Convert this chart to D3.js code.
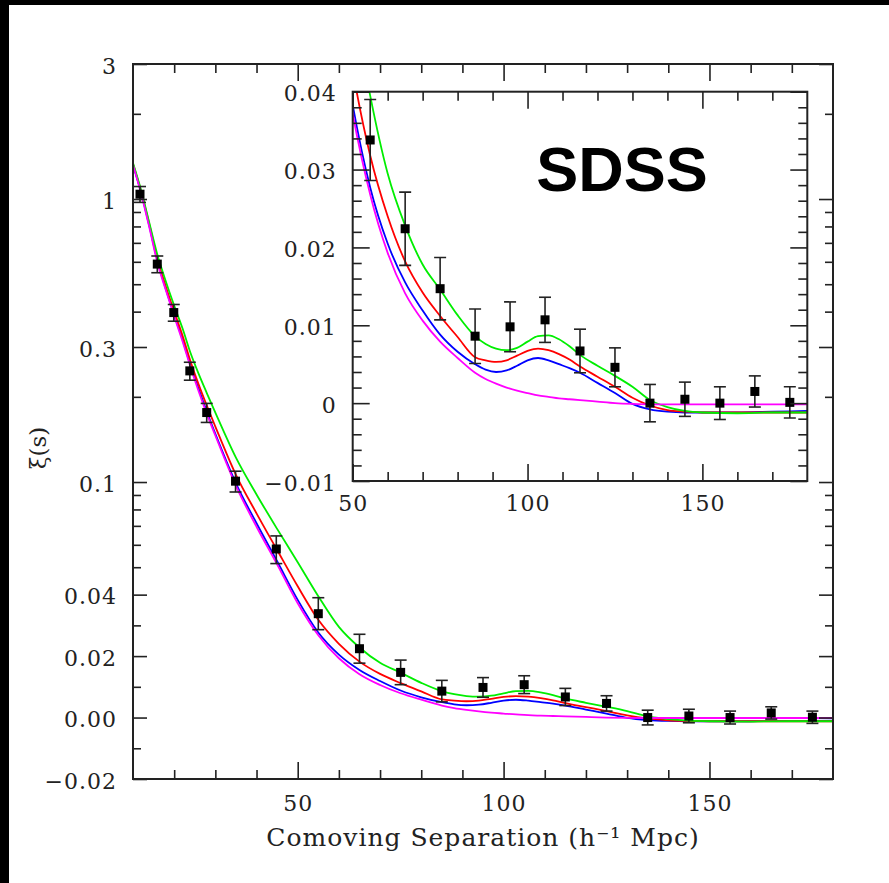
<!DOCTYPE html>
<html><head><meta charset="utf-8">
<script src="https://cdn.jsdelivr.net/npm/d3@7"></script>
<style>body{margin:0;background:#fff} svg{display:block}</style>
</head><body><svg id="c" width="889" height="883"></svg>
<script>
// ---------------- data ----------------
const pointSep = [11.7, 15.9, 19.9, 23.8, 27.9, 34.9, 44.8, 55, 65, 75, 85, 95, 105, 115, 125, 135, 145, 155, 165, 175];
const pointXi  = [1.04, 0.589, 0.397, 0.247, 0.176, 0.1007, 0.058, 0.0338, 0.0224, 0.0147, 0.0086, 0.0098, 0.0107, 0.0067, 0.0046, 0.0000, 0.0005, 0.0000, 0.0015, 0.0001];
const pointErr = [0.067, 0.040, 0.027, 0.018, 0.0136, 0.0085, 0.0065, 0.0052, 0.0047, 0.0040, 0.0035, 0.0032, 0.0029, 0.0028, 0.0025, 0.0024, 0.0022, 0.0021, 0.0020, 0.0020];

const curveSep = [10,12,14,16,18,20,22,24,26,28,30,35,40,45,50,55,60,65,70,75,80,85,88,91,94,97,100,103,106,109,112,115,120,125,130,135,140,145,150,160,170,180];
const modelGreen = [1.34,1.07,0.82,0.63,0.51,0.42,0.35,0.285,0.24,0.205,0.176,0.122,0.0904,0.0683,0.0521,0.0395,0.0295,0.0228,0.0178,0.0146,0.0113,0.0086,0.0076,0.0070,0.0068,0.0071,0.0079,0.0086,0.0087,0.0082,0.0073,0.0062,0.0048,0.0035,0.0021,0.0004,-0.0005,-0.0010,-0.0012,-0.0013,-0.0012,-0.0012];
const modelRed   = [1.33,1.06,0.81,0.61,0.49,0.40,0.33,0.266,0.22,0.185,0.157,0.106,0.0775,0.0575,0.0428,0.0318,0.0240,0.0182,0.0142,0.0112,0.0085,0.0059,0.0055,0.0053,0.0055,0.0061,0.0067,0.0070,0.0068,0.0063,0.0056,0.0047,0.0034,0.0021,0.0007,-0.0003,-0.0009,-0.0011,-0.0012,-0.0012,-0.0012,-0.0012];
const modelBlue  = [1.32,1.05,0.80,0.60,0.48,0.39,0.32,0.258,0.212,0.176,0.148,0.099,0.0715,0.0525,0.0383,0.0277,0.0205,0.0155,0.0119,0.0088,0.0066,0.0050,0.0043,0.0040,0.0042,0.0048,0.0055,0.0058,0.0055,0.0050,0.0045,0.0039,0.0026,0.0013,-0.0001,-0.0008,-0.0011,-0.0012,-0.0012,-0.0012,-0.0011,-0.0010];
const modelMagenta = [1.32,1.04,0.79,0.59,0.475,0.385,0.315,0.254,0.208,0.173,0.146,0.097,0.0695,0.0512,0.0372,0.0268,0.0193,0.0141,0.0106,0.0079,0.0058,0.0039,0.0031,0.0025,0.0020,0.0016,0.0013,0.0010,0.0008,0.0006,0.0005,0.0004,0.0002,0.0000,-0.0001,-0.00015,-0.00015,-0.00015,-0.00015,-0.00015,-0.00015,-0.00015];
const models = [
  {name:"blue", color:"#0000ff", values:modelBlue},
  {name:"red", color:"#ff0000", values:modelRed},
  {name:"green", color:"#00ee00", values:modelGreen},
  {name:"magenta", color:"#ff00ff", values:modelMagenta}
];

const mainYMajor = [3, 1, 0.3, 0.1, 0.04, 0.02, 0, -0.02];
const mainYLabels = ["3", "1", "0.3", "0.1", "0.04", "0.02", "0.00", "\u22120.02"];
const mainYMinor = [2, 0.9, 0.8, 0.7, 0.6, 0.5, 0.4, 0.2, 0.09, 0.08, 0.07, 0.06, 0.05, 0.03, 0.01, -0.01];
const mainXMajor = [50, 100, 150];
const mainXMinor = [20, 30, 40, 60, 70, 80, 90, 110, 120, 130, 140, 160, 170];
const insetYMajor = [-0.01, 0, 0.01, 0.02, 0.03, 0.04];
const insetYLabels = ["\u22120.01", "0", "0.01", "0.02", "0.03", "0.04"];
const insetYMinor = [-0.008, -0.006, -0.004, -0.002, 0.002, 0.004, 0.006, 0.008, 0.012, 0.014, 0.016, 0.018, 0.022, 0.024, 0.026, 0.028, 0.032, 0.034, 0.036, 0.038];
const insetXMajor = [50, 100, 150];
const insetXMinor = [60, 70, 80, 90, 110, 120, 130, 140, 160, 170];

// ---------------- setup ----------------
const svg = d3.select("#c");
const FONT = "DejaVu Serif";
const INK = "#222";

svg.append("rect").attr("x",0).attr("y",0).attr("width",889).attr("height",5).attr("fill","#000");
svg.append("rect").attr("x",0).attr("y",0).attr("width",9).attr("height",883).attr("fill","#000");

// mixed linear / log transform (linear below 0.04, log above, C1 continuous)
const LIN = 0.04;
const fwd = v => v <= LIN ? v / LIN : 1 + Math.log(v / LIN);

const M = {l:133, r:833, t:64, b:779};
const xMain = d3.scaleLinear().domain([10, 180]).range([M.l, M.r]);
const yMainT = d3.scaleLinear().domain([fwd(-0.02), fwd(3)]).range([M.b, M.t]);
const yMain = v => yMainT(fwd(v));

const I = {l:352.7, r:807.3, t:91.7, b:481};
const xIn = d3.scaleLinear().domain([50, 180]).range([I.l, I.r]);
const yIn = d3.scaleLinear().domain([-0.01, 0.04]).range([I.b, I.t]);

const defs = svg.append("defs");
defs.append("clipPath").attr("id","clipMain").append("rect")
  .attr("x",M.l).attr("y",M.t).attr("width",M.r-M.l).attr("height",M.b-M.t);
defs.append("clipPath").attr("id","clipIn").append("rect")
  .attr("x",I.l).attr("y",I.t).attr("width",I.r-I.l).attr("height",I.b-I.t);

function styleAxis(g, showText){
  g.select(".domain").remove();
  g.selectAll("line").attr("stroke",INK).attr("stroke-width",1.6);
  g.selectAll("text").attr("fill",INK).attr("font-family",FONT).attr("font-size",22)
    .attr("letter-spacing","1px");
  if(!showText) g.selectAll("text").remove();
}

function drawPanel(opt){
  const {box, xs, yT, yFn, fwdFn, xMaj, xMin, yMaj, yLab, yMin, clip, xLen, yLen, xPad, yPad} = opt;
  svg.append("rect").attr("x",box.l).attr("y",box.t).attr("width",box.r-box.l).attr("height",box.b-box.t)
    .attr("fill","#fff");
  // curves
  const line = d3.line().x((d,i)=>xs(curveSep[i])).y(d=>yFn(d)).curve(d3.curveMonotoneX);
  const cg = svg.append("g").attr("clip-path",`url(#${clip})`);
  models.forEach(m=>{
    cg.append("path").attr("d", line(m.values)).attr("fill","none")
      .attr("stroke", m.color).attr("stroke-width",1.8);
  });
  // points with error bars
  const idx = d3.range(pointSep.length).filter(i => pointSep[i] >= xs.domain()[0]);
  const pg = svg.append("g").attr("clip-path",`url(#${clip})`);
  idx.forEach(i=>{
    const x = xs(pointSep[i]);
    const y1 = yFn(pointXi[i] + pointErr[i]), y0 = yFn(pointXi[i] - pointErr[i]);
    pg.append("line").attr("x1",x).attr("x2",x).attr("y1",y1).attr("y2",y0).attr("stroke","#222").attr("stroke-width",1.6);
    [y0,y1].forEach(yy=>pg.append("line").attr("x1",x-6).attr("x2",x+6).attr("y1",yy).attr("y2",yy).attr("stroke","#222").attr("stroke-width",1.6));
    pg.append("rect").attr("x",x-4.5).attr("y",yFn(pointXi[i])-4.5).attr("width",9).attr("height",9).attr("fill","#000");
  });
  // axes
  svg.append("g").attr("transform",`translate(0,${box.b})`)
    .call(d3.axisBottom(xs).tickValues(xMaj).tickSize(-xLen[0]).tickPadding(xPad).tickFormat(d3.format("d")))
    .call(g=>styleAxis(g,true));
  svg.append("g").attr("transform",`translate(0,${box.b})`)
    .call(d3.axisBottom(xs).tickValues(xMin).tickSize(-xLen[1]))
    .call(g=>styleAxis(g,false));
  svg.append("g").attr("transform",`translate(0,${box.t})`)
    .call(d3.axisTop(xs).tickValues(xMaj).tickSize(-xLen[0]))
    .call(g=>styleAxis(g,false));
  svg.append("g").attr("transform",`translate(0,${box.t})`)
    .call(d3.axisTop(xs).tickValues(xMin).tickSize(-xLen[1]))
    .call(g=>styleAxis(g,false));
  const ly = svg.append("g").attr("transform",`translate(${box.l},0)`)
    .call(d3.axisLeft(yT).tickValues(yMaj.map(fwdFn)).tickSize(-yLen[0]).tickPadding(yPad)
      .tickFormat((d,i)=>yLab[i]))
    .call(g=>styleAxis(g,true));
  ly.selectAll("text").attr("dy","0.42em");
  svg.append("g").attr("transform",`translate(${box.l},0)`)
    .call(d3.axisLeft(yT).tickValues(yMin.map(fwdFn)).tickSize(-yLen[1]))
    .call(g=>styleAxis(g,false));
  svg.append("g").attr("transform",`translate(${box.r},0)`)
    .call(d3.axisRight(yT).tickValues(yMaj.map(fwdFn)).tickSize(-yLen[0]))
    .call(g=>styleAxis(g,false));
  svg.append("g").attr("transform",`translate(${box.r},0)`)
    .call(d3.axisRight(yT).tickValues(yMin.map(fwdFn)).tickSize(-yLen[1]))
    .call(g=>styleAxis(g,false));
  svg.append("rect").attr("x",box.l).attr("y",box.t).attr("width",box.r-box.l).attr("height",box.b-box.t)
    .attr("fill","none").attr("stroke",INK).attr("stroke-width",2);
}

drawPanel({box:M, xs:xMain, yT:yMainT, yFn:yMain, fwdFn:fwd,
  xMaj:mainXMajor, xMin:mainXMinor, yMaj:mainYMajor, yLab:mainYLabels, yMin:mainYMinor,
  clip:"clipMain", xLen:[17,9], yLen:[14,8], xPad:16, yPad:16});

drawPanel({box:I, xs:xIn, yT:yIn, yFn:yIn, fwdFn:(v=>v),
  xMaj:insetXMajor, xMin:insetXMinor, yMaj:insetYMajor, yLab:insetYLabels, yMin:insetYMinor,
  clip:"clipIn", xLen:[17,9], yLen:[17,9], xPad:14, yPad:16});

// titles
svg.append("text").attr("x",483).attr("y",846).attr("text-anchor","middle")
  .attr("font-family",FONT).attr("font-size",25).attr("letter-spacing","1px").attr("fill",INK)
  .text("Comoving Separation (h\u207B\u00B9 Mpc)");
svg.append("text").attr("transform","translate(46,448) rotate(-90)").attr("text-anchor","middle")
  .attr("font-family",FONT).attr("font-size",23).attr("fill",INK).text("\u03BE(s)");
svg.append("text").attr("x",622).attr("y",191).attr("text-anchor","middle")
  .attr("font-family","Liberation Sans, Arial, sans-serif").attr("font-weight","bold")
  .attr("font-size",63).attr("fill","#000").text("SDSS");
</script>
</body></html>
